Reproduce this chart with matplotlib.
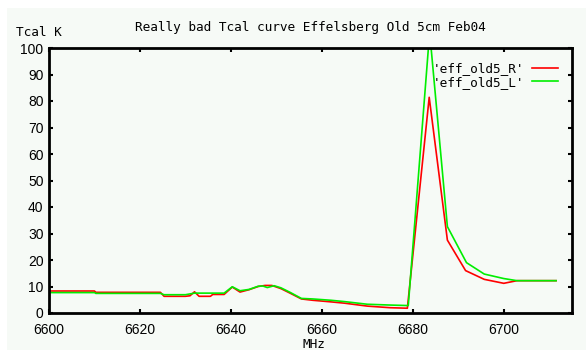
import matplotlib
matplotlib.use("Agg")
import matplotlib.pyplot as plt
from matplotlib.patches import Rectangle

# ---- data ----
freq_R = [6600, 6610, 6610.3, 6624.5, 6625.3, 6630, 6631, 6632, 6633, 6635.5, 6636,
          6638.5, 6640.3, 6642, 6644, 6646, 6647.5, 6649, 6651, 6653, 6655.5, 6658,
          6662, 6665, 6670, 6675, 6678.8, 6683.6, 6687.6, 6691.6, 6695.7, 6700,
          6702.9, 6711.5]
tcal_R = [8.3, 8.3, 7.8, 7.8, 6.3, 6.3, 6.5, 8.0, 6.3, 6.3, 7.0,
          7.0, 9.8, 7.9, 8.8, 10.0, 10.4, 10.4, 9.2, 7.5, 5.3, 4.8,
          4.2, 3.7, 2.6, 2.0, 1.8, 81.4, 27.5, 16.0, 12.7, 11.2,
          12.2, 12.2]

freq_L = [6600, 6610, 6610.3, 6624.5, 6625.3, 6630, 6632, 6638.5, 6640.3, 6642,
          6644, 6646, 6647, 6648, 6649.5, 6651, 6653, 6655.5, 6658, 6662, 6665,
          6670, 6675, 6679, 6683.7, 6687.6, 6691.8, 6695.7, 6700, 6702.9, 6711.5]
tcal_L = [7.7, 7.7, 7.4, 7.4, 6.9, 6.9, 7.5, 7.5, 9.9, 8.4,
          8.9, 10.1, 10.2, 9.6, 10.3, 9.5, 7.8, 5.5, 5.3, 4.8, 4.3,
          3.3, 3.0, 2.8, 106.0, 32.6, 19.0, 14.7, 13.0, 12.2, 12.2]

labels = ["'eff_old5_R'", "'eff_old5_L'"]
x_ticks = [6600, 6620, 6640, 6660, 6680, 6700]
y_ticks = [0, 10, 20, 30, 40, 50, 60, 70, 80, 90, 100]
title = "Really bad Tcal curve Effelsberg Old 5cm Feb04"

W, H = 586, 350
BG = "#f6faf6"
fig = plt.figure(figsize=(W / 100, H / 100), dpi=100, facecolor="white")
fig.patches.append(Rectangle((7 / W, 0), 1 - 7 / W, 1 - 8 / H, transform=fig.transFigure,
                             facecolor=BG, edgecolor="none", zorder=-10))

ax = fig.add_axes([49 / W, 1 - 313 / H, (572 - 49) / W, (313 - 48) / H])
ax.set_facecolor(BG)

ax.plot(freq_R, tcal_R, color="#ff0000", lw=1.2, label=labels[0])
ax.plot(freq_L, tcal_L, color="#00ee00", lw=1.2, label=labels[1])

ax.set_xlim(6600, 6715)
ax.set_ylim(0, 100)
ax.set_xticks(x_ticks)
ax.set_yticks(y_ticks)

tick_font = dict(family=["Liberation Sans", "DejaVu Sans"], size=10)
ax.set_xticklabels([str(v) for v in x_ticks], **tick_font)
ax.set_yticklabels([str(v) for v in y_ticks], **tick_font)
ax.tick_params(direction="in", length=3, width=1.5, top=True, right=True,
               labeltop=False, labelright=False, colors="black")
ax.tick_params(axis="x", pad=7)
ax.tick_params(axis="y", pad=4)
for s in ax.spines.values():
    s.set_linewidth(2)
    s.set_color("black")

mono = ["DejaVu Sans Mono"]
fig.text(310 / W, 1 - 27 / H, title, ha="center", va="center", family=mono, size=9.2)
fig.text(16 / W, 1 - 33 / H, "Tcal K", ha="left", va="center", family=mono, size=9.2)
fig.text(314 / W, 1 - 338 / H, "MHz", ha="center", va="top", family=mono, size=9.2)

leg = ax.legend(loc="upper right", frameon=False, markerfirst=False,
                prop=dict(family=mono, size=9.2), handlelength=2.0,
                handletextpad=0.6, borderpad=0.2, borderaxespad=0.9,
                labelspacing=0.05)

fig.savefig("out.png", dpi=100, facecolor="white")
